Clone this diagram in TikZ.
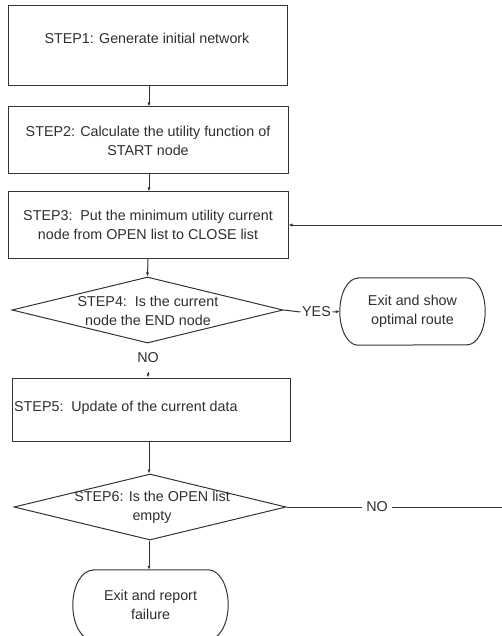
\documentclass[tikz,border=0pt]{standalone}
\usepackage{fontspec}
\setmainfont{Liberation Sans}
\usetikzlibrary{shapes.geometric,arrows.meta}
\definecolor{ink}{HTML}{2E2E2E}
\definecolor{edge}{HTML}{333333}
\begin{document}
\begin{tikzpicture}[x=1pt,y=1pt,
  every node/.style={font=\fontsize{14.3}{18.8}\selectfont, text=ink},
  stepbox/.style={draw=edge, line width=1pt, rectangle, inner sep=0pt},
  decision/.style={draw=edge, line width=1pt, diamond, inner sep=0pt},
  txt/.style={align=center, inner sep=1pt},
  lbl/.style={inner sep=4pt},
  flow/.style={draw=edge, line width=1pt, -{Latex[length=4pt,width=3.2pt]}},
  plain/.style={draw=edge, line width=1pt}
]
\useasboundingbox (0,0) rectangle (502,-636);
\clip (0,0) rectangle (502,-636);

% process boxes
\node[stepbox, minimum width=279pt, minimum height=80pt] (s1) at (147.5,-46) {};
\node[txt] (s1t) at (147,-38) {STEP1: Generate initial network};

\node[stepbox, minimum width=280pt, minimum height=67pt, align=center] (s2) at (148,-140.5)
  {STEP2: Calculate the utility function of\\START node};

\node[stepbox, minimum width=280pt, minimum height=66pt, align=center] (s3) at (148,-225)
  {STEP3:\ \ Put the minimum utility current\\node from OPEN list to CLOSE list};

% decision 4
\node[decision, minimum width=271pt, minimum height=66pt] (d4) at (147.5,-310) {};
\node[txt] (d4t) at (148,-311) {STEP4:\ \ Is the current\\node the END node};

\node[lbl, inner sep=1.5pt] (yes) at (316.5,-312) {YES};
\node[rectangle, minimum width=145pt, minimum height=67pt, align=center] (e1) at (412.5,-311.5)
  {Exit and show\\optimal route};
\draw[edge, line width=1pt]
  ([xshift=18pt]e1.north west) -- ([xshift=-18pt]e1.north east)
  arc[start angle=90, end angle=-90, x radius=18pt, y radius=33.5pt]
  -- ([xshift=18pt]e1.south west)
  arc[start angle=270, end angle=90, x radius=18pt, y radius=33.5pt] -- cycle;

\node[txt] (no4) at (148,-358) {NO};

\node[stepbox, minimum width=278pt, minimum height=63pt] (s5) at (151,-409.5) {};
\node[txt, anchor=west] (s5t) at (13,-408) {STEP5:\ \ Update of the current data};

% decision 6
\node[decision, minimum width=272pt, minimum height=66pt] (d6) at (150,-507) {};
\node[txt] (d6t) at (152,-507) {STEP6: Is the OPEN list\\empty};

\node[lbl] (no6) at (377,-507) {NO};

\node[rectangle, minimum width=155pt, minimum height=70pt, align=center] (e2) at (150.5,-605)
  {Exit and report\\failure};
\draw[edge, line width=1pt]
  ([xshift=20pt]e2.north west) -- ([xshift=-20pt]e2.north east)
  arc[start angle=90, end angle=-90, x radius=20pt, y radius=35pt]
  -- ([xshift=20pt]e2.south west)
  arc[start angle=270, end angle=90, x radius=20pt, y radius=35pt] -- cycle;

% loop-back ends at the right margin
\coordinate (r3) at (502,-225);
\coordinate (r6) at (502,-507);

% connectors
\draw[flow] (s1.south -| 149,0) -- (s2.north -| 149,0);
\draw[flow] (s2.south -| 149,0) -- (s3.north -| 149,0);
\draw[flow] (s3.south -| 148,0) -- (d4.north);
\draw[plain] (d4.east) -- (yes.west);
\draw[flow] (yes.east) -- (e1.west);
\draw[flow, shorten <=8pt] (no4.south -| 148,0) -- (s5.north -| 148,0);
\draw[flow] (s5.south -| 149,0) -- (d6.north -| 149,0);
\draw[plain] (d6.east) -- (no6.west);
\draw[plain] (no6.east) -- (r6);
\draw[flow] (r3) -- (s3.east);
\draw[flow] (d6.south -| 149,0) -- (e2.north -| 149,0);
\end{tikzpicture}
\end{document}
